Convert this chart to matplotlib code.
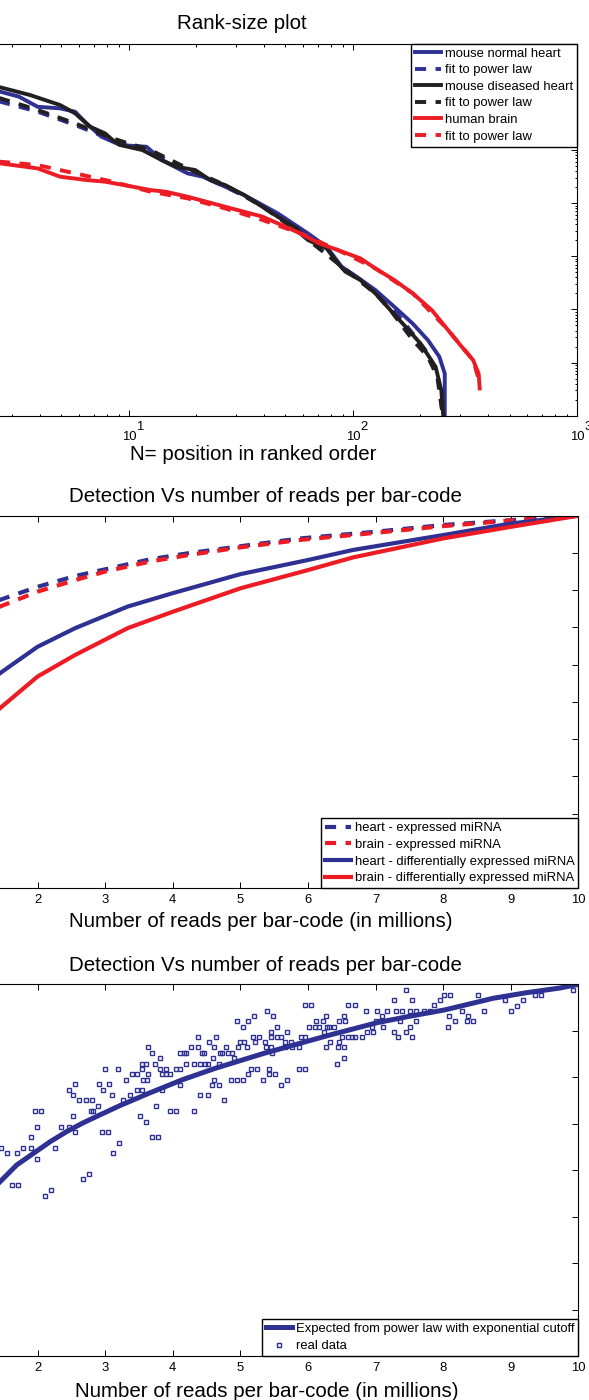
import matplotlib
matplotlib.use("Agg")
import matplotlib.pyplot as plt
from matplotlib.ticker import LogLocator, MultipleLocator, NullFormatter
from matplotlib.transforms import blended_transform_factory, offset_copy

plt.rcParams['font.family'] = ['Liberation Sans', 'DejaVu Sans']
plt.rcParams['lines.scale_dashes'] = False

BLUE = '#2e3192'
RED = '#ed1c24'
BLACK = '#231f20'
DASH = (0, (8, 6.8))

# ---------------- rank-size data (reads vs rank) ----------------
rank_normal = [1, 2, 2.67, 3.23, 3.92, 4.94, 5.76, 6.47, 7.55, 9.15, 12.0, 14.0, 18.3, 21.4,
               26.9, 32.7, 46.2, 63.0, 76.3, 89.1, 104, 126, 153, 185, 216, 243, 257, 257]
reads_normal = [2.3e6, 1.5e6, 1.25e6, 1.01e6, 6.5e5, 6.07e5, 5.25e5, 3.17e5, 1.78e5, 1.24e5,
                1.15e5, 6.47e4, 3.63e4, 3.14e4, 2.04e4, 1.42e4, 6.41e3, 2.69e3, 1.51e3, 635,
                412, 231, 112, 54, 26.5, 12.9, 6.2, 1.0]

rank_normal_fit = [1, 2, 2.67, 3.92, 5.76, 8.47, 12.5, 18.3, 26.9, 39.6, 58.3, 85.7, 126,
                   153, 185, 216, 238, 248, 251]
reads_normal_fit = [1.5e6, 1.0e6, 8.1e5, 5.25e5, 2.95e5, 1.54e5, 9.27e4, 4.19e4, 2.04e4,
                    9.2e3, 2.69e3, 735, 200, 97, 35, 14.9, 6.2, 1.97, 1.0]

rank_diseased = [1, 2, 2.67, 3.63, 4.94, 5.76, 6.72, 7.84, 8.47, 9.15, 11.5, 14.0, 16.3, 19.8,
                 23.1, 26.9, 32.7, 46.2, 56.1, 63.0, 76.3, 85.7, 92.6, 108, 126, 147, 172,
                 200, 234, 248, 253]
reads_diseased = [2.6e6, 1.8e6, 1.51e6, 1.08e6, 7.0e5, 4.89e5, 2.74e5, 2.05e5, 1.54e5, 1.24e5,
                  9.97e4, 6.47e4, 4.84e4, 4.19e4, 2.72e4, 2.19e4, 1.42e4, 5.55e3, 3.34e3,
                  2.02e3, 1.41e3, 735, 512, 357, 200, 97, 47, 22.9, 8.3, 3.03, 1.0]

rank_diseased_fit = [1, 2, 2.67, 3.92, 5.76, 8.47, 12.5, 18.3, 26.9, 39.6, 58.3, 85.7, 126,
                     147, 185, 216, 238, 251]
reads_diseased_fit = [1.7e6, 1.15e6, 9.4e5, 5.65e5, 3.17e5, 1.65e5, 9.97e4, 4.5e4, 2.19e4,
                      8.55e3, 2.69e3, 735, 200, 97, 26.5, 12.9, 5.4, 1.1]

rank_brain = [1, 2, 2.67, 3.92, 4.94, 6.47, 7.84, 9.51, 12.5, 14.6, 18.3, 26.9, 39.6, 49.9,
              58.3, 70.7, 85.7, 108, 126, 153, 185, 225, 262, 306, 344, 364, 368]
reads_brain = [8.0e4, 6.3e4, 5.6e4, 4.5e4, 3.14e4, 2.72e4, 2.53e4, 2.19e4, 1.76e4, 1.64e4,
               1.32e4, 8.55e3, 5.55e3, 3.6e3, 2.69e3, 1.75e3, 1.31e3, 912, 591, 357, 200,
               97, 44, 19.8, 11.1, 6.2, 3.26]

rank_brain_fit = [1, 2, 2.67, 3.92, 5.76, 8.47, 12.5, 18.3, 26.9, 39.6, 58.3, 85.7, 126,
                  185, 262, 344, 368]
reads_brain_fit = [9.0e4, 6.8e4, 6.01e4, 5.2e4, 3.63e4, 2.53e4, 1.64e4, 1.23e4, 7.96e3,
                   4.8e3, 2.69e3, 1.31e3, 591, 200, 44, 11.1, 4.2]

rank_decades = [1, 2, 3]

# ---------------- detection vs reads per bar-code ----------------
mreads_expr = [1, 1.25, 1.444, 2, 2.556, 3, 3.667, 4.222, 5, 5.889, 7, 8, 9, 10]
heart_expr = [0.74, 0.757, 0.774, 0.809, 0.838, 0.856, 0.883, 0.899, 0.918, 0.939, 0.957,
              0.975, 0.988, 1.0]
brain_expr = [0.72, 0.738, 0.756, 0.796, 0.827, 0.850, 0.877, 0.894, 0.915, 0.935, 0.954,
              0.972, 0.987, 1.0]

mreads_diff = [1, 1.25, 1.444, 2, 2.556, 3.333, 4, 5, 6, 6.667, 8, 9, 10]
heart_diff = [0.50, 0.545, 0.577, 0.648, 0.698, 0.756, 0.792, 0.843, 0.881, 0.908, 0.948,
              0.979, 1.0]
brain_diff = [0.40, 0.45, 0.483, 0.568, 0.626, 0.698, 0.742, 0.805, 0.854, 0.888, 0.939,
              0.970, 1.0]

mreads_ticks = list(range(0, 11))
mreads_ticklabels = ['', '', '2', '3', '4', '5', '6', '7', '8', '9', '10']

# ---------------- expected curve and real data ----------------
mreads_fit = [1.0, 1.2, 1.444, 1.69, 1.937, 2.183, 2.43, 2.676, 2.923, 3.219, 3.638, 4.131,
              4.624, 5.339, 5.833, 6.326, 7.04, 7.533, 8.026, 8.742, 9.235, 9.728, 10.0]
expected = [0.50, 0.54, 0.575, 0.611, 0.636, 0.661, 0.683, 0.702, 0.719, 0.739, 0.765, 0.794,
            0.819, 0.851, 0.871, 0.891, 0.918, 0.932, 0.945, 0.970, 0.982, 0.992, 1.0]

real_x = [2.997, 3.194, 2.558, 2.903, 3.061, 2.464, 2.972, 2.529, 3.105, 2.617, 2.711, 2.800,
          2.889, 1.962, 2.050, 2.790, 2.824, 2.529, 1.986, 2.351, 2.469, 2.558, 2.948, 3.037,
          1.897, 3.204, 1.463, 1.784, 1.902, 2.262, 1.547, 1.695, 3.120, 1.986, 2.765, 2.676,
          1.626, 1.715, 2.198, 2.109,
          4.378, 4.644, 4.540, 3.628, 4.264, 4.378, 4.614, 4.792, 3.697, 4.111, 4.171, 4.200,
          4.437, 4.467, 4.703, 4.733, 4.821, 4.881, 3.811, 4.590, 3.544, 3.604, 3.742, 4.200,
          4.314, 4.407, 4.471, 4.526, 4.683, 3.544, 3.811, 3.899, 4.052, 4.111, 3.392, 3.475,
          3.633, 3.840, 3.899, 3.959, 3.308, 3.564, 3.623, 4.614, 4.856, 4.111, 4.585, 4.678,
          3.466, 3.540, 3.845, 3.372, 4.407, 4.526, 3.263, 4.762, 3.756, 3.959, 4.047, 4.318,
          3.520, 3.608, 3.687, 3.776,
          5.961, 6.049, 6.597, 5.389, 5.206, 5.477, 6.261, 6.528, 4.945, 5.117, 6.113, 6.227,
          6.459, 6.552, 5.034, 5.541, 6.020, 6.108, 6.168, 6.286, 6.316, 6.380, 5.453, 5.694,
          6.232, 5.181, 5.270, 5.458, 5.546, 5.601, 5.892, 5.961, 6.508, 6.597, 4.999, 5.058,
          5.216, 5.364, 5.660, 5.749, 6.321, 6.464, 4.964, 5.103, 5.384, 5.453, 5.660, 5.763,
          5.867, 6.261, 6.439, 6.528, 5.472, 4.905, 6.528, 6.434, 5.162, 5.250, 5.428, 5.872,
          5.961, 5.117, 5.418, 5.517, 4.950, 5.034, 5.329, 5.689, 5.601,
          7.450, 8.017, 8.105, 7.267, 7.538, 7.957, 6.700, 7.869, 6.858, 7.026, 7.173, 7.297,
          7.386, 7.514, 7.603, 7.716, 7.805, 8.283, 7.100, 8.081, 7.006, 7.075, 7.366, 7.603,
          8.170, 6.952, 7.114, 7.514, 8.076, 6.878, 6.966, 7.277, 7.445, 6.646, 6.695, 6.799,
          7.331, 7.538,
          8.520, 9.363, 9.452, 9.176, 8.910, 9.087, 8.608, 9.003, 8.372, 8.347, 8.436, 9.925,
          10.0]
real_y = [0.818, 0.818, 0.785, 0.785, 0.785, 0.773, 0.773, 0.762, 0.762, 0.750, 0.750, 0.750,
          0.739, 0.727, 0.727, 0.727, 0.727, 0.716, 0.693, 0.693, 0.693, 0.682, 0.682, 0.682,
          0.671, 0.659, 0.648, 0.648, 0.648, 0.648, 0.636, 0.636, 0.636, 0.625, 0.591, 0.580,
          0.568, 0.568, 0.557, 0.545,
          0.886, 0.886, 0.875, 0.864, 0.864, 0.864, 0.864, 0.864, 0.852, 0.852, 0.852, 0.852,
          0.852, 0.852, 0.852, 0.852, 0.852, 0.852, 0.841, 0.841, 0.829, 0.829, 0.829, 0.829,
          0.829, 0.829, 0.829, 0.829, 0.829, 0.818, 0.818, 0.818, 0.818, 0.818, 0.807, 0.807,
          0.807, 0.807, 0.807, 0.807, 0.795, 0.795, 0.795, 0.795, 0.795, 0.784, 0.784, 0.784,
          0.773, 0.773, 0.773, 0.762, 0.762, 0.762, 0.750, 0.750, 0.739, 0.727, 0.727, 0.727,
          0.716, 0.704, 0.671, 0.671,
          0.955, 0.955, 0.955, 0.943, 0.932, 0.932, 0.932, 0.932, 0.920, 0.920, 0.920, 0.920,
          0.920, 0.920, 0.909, 0.909, 0.909, 0.909, 0.909, 0.909, 0.909, 0.909, 0.897, 0.897,
          0.897, 0.886, 0.886, 0.886, 0.886, 0.886, 0.886, 0.886, 0.886, 0.886, 0.875, 0.875,
          0.875, 0.875, 0.875, 0.875, 0.875, 0.875, 0.864, 0.864, 0.864, 0.864, 0.864, 0.864,
          0.864, 0.864, 0.864, 0.864, 0.852, 0.841, 0.841, 0.829, 0.818, 0.818, 0.818, 0.818,
          0.818, 0.807, 0.807, 0.807, 0.795, 0.795, 0.795, 0.795, 0.784,
          0.988, 0.977, 0.977, 0.966, 0.966, 0.966, 0.955, 0.955, 0.943, 0.943, 0.943, 0.943,
          0.943, 0.943, 0.943, 0.943, 0.943, 0.943, 0.932, 0.932, 0.920, 0.920, 0.920, 0.920,
          0.920, 0.909, 0.909, 0.909, 0.909, 0.897, 0.897, 0.897, 0.897, 0.886, 0.886, 0.886,
          0.886, 0.886,
          0.977, 0.977, 0.977, 0.966, 0.966, 0.954, 0.943, 0.943, 0.932, 0.920, 0.920, 0.988,
          1.0]

# -------------------------------------------------------------
FW, FH = 589, 1400
fig = plt.figure(figsize=(FW / 100, FH / 100), dpi=100)


def rect(left, right, top, bottom):
    # pixel box -> figure fraction
    return [left / FW, 1 - bottom / FH, (right - left) / FW, (bottom - top) / FH]


def style(ax):
    for s in ax.spines.values():
        s.set_linewidth(0.8)
    ax.tick_params(which='both', direction='in', top=True, right=True,
                   labelsize=9.4, pad=4.2, width=0.7, labelleft=False)
    ax.tick_params(which='major', length=4)
    ax.tick_params(which='minor', length=1.8)


legend_kw = dict(fontsize=9.4, handlelength=2.0, handletextpad=0.27, borderpad=0.3,
                 labelspacing=0.34, borderaxespad=0, fancybox=False, framealpha=1,
                 edgecolor='black')

# ---------------- panel 1 ----------------
ax1 = fig.add_axes(rect(-95.3, 577, 43.7, 415.7))
ax1.plot(rank_normal, reads_normal, color=BLUE, lw=2.8, label='mouse normal heart')
ax1.plot(rank_normal_fit, reads_normal_fit, color=BLUE, lw=2.8, ls=DASH, label='fit to power law')
ax1.plot(rank_diseased, reads_diseased, color=BLACK, lw=2.8, label='mouse diseased heart')
ax1.plot(rank_diseased_fit, reads_diseased_fit, color=BLACK, lw=2.8, ls=DASH, label='fit to power law')
ax1.plot(rank_brain, reads_brain, color=RED, lw=2.8, label='human brain')
ax1.plot(rank_brain_fit, reads_brain_fit, color=RED, lw=2.8, ls=DASH, label='fit to power law')
ax1.set_xscale('log')
ax1.set_yscale('log')
ax1.set_xlim(1, 1000)
ax1.set_ylim(1, 1e7)
ax1.yaxis.set_major_locator(LogLocator(base=10, numticks=20))
ax1.yaxis.set_minor_locator(LogLocator(base=10, subs=range(2, 10), numticks=20))
ax1.yaxis.set_minor_formatter(NullFormatter())
ax1.xaxis.set_major_formatter(NullFormatter())
ax1.xaxis.set_minor_formatter(NullFormatter())
style(ax1)
# matlab style "10" with a full size exponent
trans = blended_transform_factory(ax1.transData, ax1.transAxes)
for k in rank_decades:
    ax1.text(10 ** k, 0, '10', fontsize=9.4, ha='center', va='baseline',
             transform=offset_copy(trans, fig=fig, x=0, y=-24.3, units='dots'))
    ax1.text(10 ** k, 0, str(k), fontsize=9.4, ha='left', va='baseline',
             transform=offset_copy(trans, fig=fig, x=7.3, y=-14.3, units='dots'))
ax1.set_title('Rank-size plot', fontsize=14.8, x=0.5015, pad=10.4)
ax1.set_xlabel('N= position in ranked order', fontsize=14.8, va='baseline')
ax1.xaxis.set_label_coords(0.519, -44.3 / 372)
leg = ax1.legend(loc='upper right', **legend_kw)
leg.get_frame().set_linewidth(1.0)

# ---------------- panel 2 ----------------
ax2 = fig.add_axes(rect(-97.6, 578.4, 515.7, 888))
ax2.plot(mreads_expr, heart_expr, color=BLUE, lw=3, ls=DASH, label='heart - expressed miRNA')
ax2.plot(mreads_expr, brain_expr, color=RED, lw=3, ls=DASH, label='brain - expressed miRNA')
ax2.plot(mreads_diff, heart_diff, color=BLUE, lw=3,
         label='heart - differentially expressed miRNA')
ax2.plot(mreads_diff, brain_diff, color=RED, lw=3,
         label='brain - differentially expressed miRNA')
ax2.set_xlim(0, 10)
ax2.set_ylim(0, 1)
ax2.set_xticks(mreads_ticks)
ax2.set_xticklabels(mreads_ticklabels)
ax2.yaxis.set_major_locator(MultipleLocator(0.1))
style(ax2)
ax2.set_title('Detection Vs number of reads per bar-code', fontsize=14.8, x=0.537, pad=10)
ax2.set_xlabel('Number of reads per bar-code (in millions)', fontsize=14.8, va='baseline')
ax2.xaxis.set_label_coords(0.5306, -39.3 / 372.3)
leg = ax2.legend(loc='lower right', **legend_kw)
leg.get_frame().set_linewidth(1.0)

# ---------------- panel 3 ----------------
ax3 = fig.add_axes(rect(-97.6, 578.4, 984.3, 1356))
ax3.plot(mreads_fit, expected, color=BLUE, lw=3.6,
         label='Expected from power law with exponential cutoff')
ax3.plot(real_x, real_y, ls='none', marker='s', ms=3.1, mfc='none', mec=BLUE, mew=1.0,
         label='real data')
ax3.set_xlim(0, 10)
ax3.set_ylim(0.2, 1.0)
ax3.set_xticks(mreads_ticks)
ax3.set_xticklabels(mreads_ticklabels)
ax3.yaxis.set_major_locator(MultipleLocator(0.1))
style(ax3)
ax3.set_title('Detection Vs number of reads per bar-code', fontsize=14.8, x=0.5375, pad=9.6)
ax3.set_xlabel('Number of reads per bar-code (in millions)', fontsize=14.8, va='baseline')
ax3.xaxis.set_label_coords(0.5386, -40.7 / 371.7)
leg = ax3.legend(loc='lower right', numpoints=1, **dict(legend_kw, labelspacing=0.38))
leg.get_frame().set_linewidth(1.0)

fig.savefig('out.png', dpi=100)
